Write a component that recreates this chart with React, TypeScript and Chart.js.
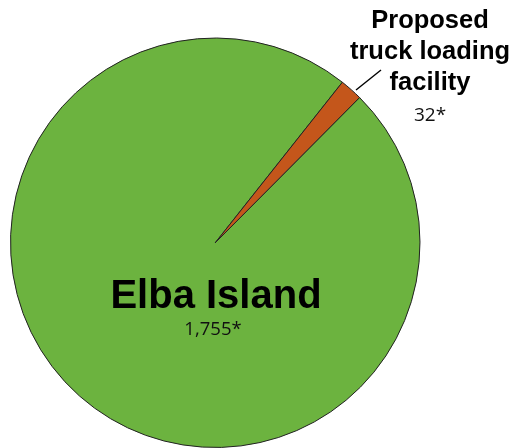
import React, { useEffect, useRef } from "react";
import { Chart, registerables } from "chart.js";

Chart.register(...registerables);

const categories = ["Elba Island", "Proposed truck loading facility"];
const values = [1755, 32];
const valueLabels = ["1,755*", "32*"];
const colors = ["#6cb33f", "#c4561b"];

const labelPlugin = {
  id: "customLabels",
  afterDraw(chart: any) {
    const ctx = chart.ctx as CanvasRenderingContext2D;
    ctx.save();
    ctx.fillStyle = "#000";
    ctx.textAlign = "center";
    ctx.textBaseline = "alphabetic";
    // main slice label
    ctx.font = "bold 40px 'Liberation Sans', Arial, sans-serif";
    ctx.fillText(categories[0], 216, 308);
    ctx.fillStyle = "#111";
    ctx.font = "18.5px 'Open Sans', sans-serif";
    ctx.fillText(valueLabels[0], 213, 335);
    // small slice label
    ctx.fillStyle = "#000";
    ctx.font = "bold 25.5px 'Liberation Sans', Arial, sans-serif";
    ctx.fillText("Proposed", 430, 28);
    ctx.fillText("truck loading", 430, 59);
    ctx.fillText("facility", 430, 90);
    ctx.fillStyle = "#111";
    ctx.font = "19px 'Open Sans', sans-serif";
    ctx.fillText(valueLabels[1], 430, 120.5);
    // leader line
    ctx.strokeStyle = "#000";
    ctx.lineWidth = 1.5;
    ctx.beginPath();
    ctx.moveTo(356, 90);
    ctx.lineTo(381, 70);
    ctx.stroke();
    ctx.restore();
  },
};

export default function App() {
  const ref = useRef<HTMLCanvasElement>(null);
  useEffect(() => {
    if (!ref.current) return;
    const total = values.reduce((a, b) => a + b, 0);
    const smallSpan = (values[1] / total) * 360;
    const chart = new Chart(ref.current, {
      type: "pie",
      data: {
        labels: categories,
        datasets: [
          {
            data: values,
            backgroundColor: colors,
            borderColor: "#222",
            borderWidth: 1,
          },
        ],
      },
      options: {
        animation: false,
        responsive: false,
        rotation: 41.6 + smallSpan / 2,
        layout: { padding: { left: 9.5, top: 37.5, right: 97, bottom: 0 } },
        plugins: {
          legend: { display: false },
          tooltip: { enabled: false },
        },
      },
      plugins: [labelPlugin],
    });
    return () => chart.destroy();
  }, []);
  return (
    <div style={{ position: "absolute", left: 0, top: 0, width: 518, height: 448, background: "#fff" }}>
      <canvas ref={ref} width={518} height={448} style={{ width: 518, height: 448 }} />
    </div>
  );
}
